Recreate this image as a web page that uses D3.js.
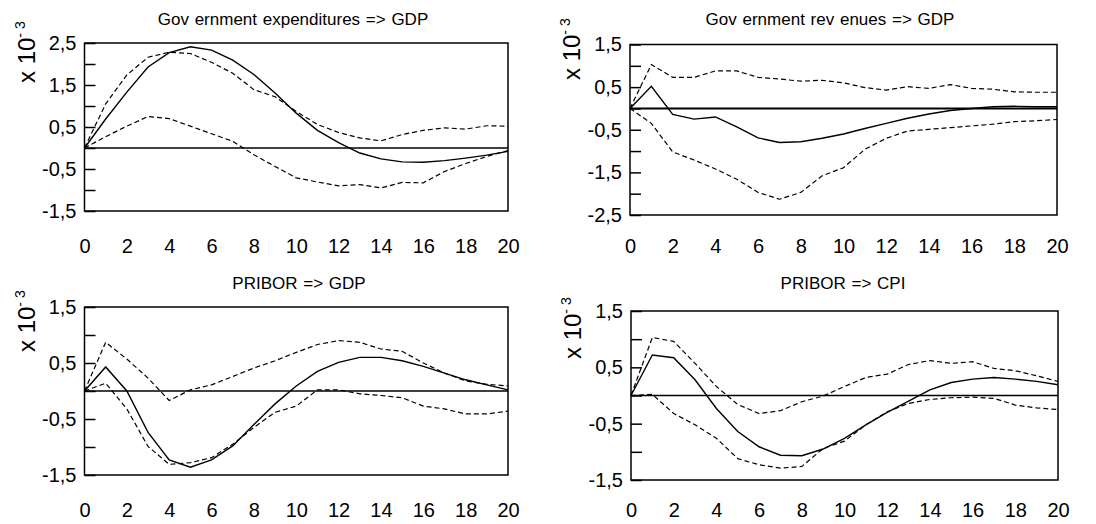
<!DOCTYPE html>
<html>
<head>
<meta charset="utf-8">
<script src="https://cdn.jsdelivr.net/npm/d3@7"></script>
<style>
  html, body { margin: 0; padding: 0; background: #fff; }
  svg { display: block; }
  text { font-family: "Liberation Sans", Arial, sans-serif; fill: #000; }
</style>
</head>
<body>
<svg id="chart" width="1096" height="524"></svg>
<script>
// ---------- DATA ----------
const horizons = d3.range(0, 21); // 0..20
const xTickValues = [0, 2, 4, 6, 8, 10, 12, 14, 16, 18, 20];

const titles = [
  "Gov ernment expenditures => GDP",
  "Gov ernment rev enues => GDP",
  "PRIBOR => GDP",
  "PRIBOR => CPI"
];

// Panel 1: Government expenditures => GDP
const govExpIrf   = [0, 0.69, 1.33, 1.93, 2.27, 2.41, 2.33, 2.09, 1.75, 1.31, 0.83, 0.42, 0.13, -0.12, -0.26, -0.33, -0.34, -0.30, -0.24, -0.17, -0.08];
const govExpUpper = [0, 1.05, 1.74, 2.16, 2.28, 2.25, 2.04, 1.78, 1.39, 1.22, 0.87, 0.56, 0.37, 0.24, 0.17, 0.32, 0.42, 0.48, 0.45, 0.53, 0.52];
const govExpLower = [0, 0.27, 0.52, 0.75, 0.70, 0.52, 0.34, 0.16, -0.16, -0.44, -0.71, -0.81, -0.90, -0.87, -0.95, -0.82, -0.83, -0.56, -0.37, -0.20, -0.06];

// Panel 2: Government revenues => GDP
const govRevIrf   = [0, 0.52, -0.14, -0.25, -0.20, -0.43, -0.69, -0.80, -0.78, -0.70, -0.60, -0.47, -0.35, -0.23, -0.13, -0.05, 0.00, 0.04, 0.05, 0.04, 0.04];
const govRevUpper = [0, 1.03, 0.73, 0.73, 0.88, 0.88, 0.73, 0.69, 0.64, 0.66, 0.60, 0.49, 0.43, 0.51, 0.47, 0.56, 0.47, 0.45, 0.39, 0.38, 0.38];
const govRevLower = [0, -0.35, -1.02, -1.21, -1.42, -1.66, -1.97, -2.13, -1.97, -1.58, -1.39, -0.96, -0.70, -0.53, -0.49, -0.45, -0.41, -0.37, -0.31, -0.29, -0.26];

// Panel 3: PRIBOR => GDP
const priGdpIrf   = [0, 0.43, 0.00, -0.74, -1.23, -1.36, -1.23, -0.98, -0.60, -0.23, 0.09, 0.35, 0.51, 0.60, 0.60, 0.54, 0.44, 0.32, 0.20, 0.11, 0.02];
const priGdpUpper = [0, 0.87, 0.57, 0.23, -0.17, 0.02, 0.11, 0.26, 0.41, 0.54, 0.69, 0.83, 0.90, 0.87, 0.75, 0.71, 0.50, 0.32, 0.18, 0.12, 0.09];
const priGdpLower = [0, 0.14, -0.32, -0.99, -1.31, -1.28, -1.19, -0.95, -0.65, -0.38, -0.27, 0.02, 0.02, -0.05, -0.08, -0.12, -0.27, -0.32, -0.41, -0.41, -0.36];

// Panel 4: PRIBOR => CPI
const priCpiIrf   = [0, 0.72, 0.67, 0.28, -0.23, -0.64, -0.91, -1.06, -1.07, -0.95, -0.76, -0.52, -0.30, -0.10, 0.10, 0.23, 0.29, 0.32, 0.29, 0.25, 0.19];
const priCpiUpper = [0, 1.03, 0.96, 0.57, 0.16, -0.16, -0.32, -0.27, -0.11, -0.01, 0.16, 0.32, 0.38, 0.55, 0.62, 0.57, 0.60, 0.48, 0.44, 0.35, 0.25];
const priCpiLower = [0, 0.02, -0.32, -0.52, -0.76, -1.12, -1.23, -1.29, -1.26, -0.94, -0.81, -0.52, -0.29, -0.14, -0.07, -0.04, -0.03, -0.05, -0.17, -0.22, -0.25];

// y domains and labelled ticks
const yDomains = [[-1.5, 2.5], [-2.5, 1.5], [-1.5, 1.5], [-1.5, 1.5]];
const yLabelValues = [
  [2.5, 1.5, 0.5, -0.5, -1.5],
  [1.5, 0.5, -0.5, -1.5, -2.5],
  [1.5, 0.5, -0.5, -1.5],
  [1.5, 0.5, -0.5, -1.5]
];
const yTickLabels = [
  ["2,5", "1,5", "0,5", "-0,5", "-1,5"],
  ["1,5", "0,5", "-0,5", "-1,5", "-2,5"],
  ["1,5", "0,5", "-0,5", "-1,5"],
  ["1,5", "0,5", "-0,5", "-1,5"]
];
const unitLabel = "x 10";
const unitExp = "- 3";

// ---------- LAYOUT ----------
const panels = [
  { left: 84.5, right: 508,  top: 43,  bottom: 211, xLabTop: 239, titleX: 293, titleY: 25,  unitY: 83 },
  { left: 630,  right: 1057, top: 44.5, bottom: 215, xLabTop: 239, titleX: 830, titleY: 25,  unitY: 80 },
  { left: 84.5, right: 508,  top: 307, bottom: 475, xLabTop: 503, titleX: 299, titleY: 289, unitY: 352 },
  { left: 631,  right: 1058, top: 311, bottom: 480, xLabTop: 503, titleX: 843, titleY: 289, unitY: 359 }
];
const seriesSets = [
  [govExpIrf, govExpUpper, govExpLower],
  [govRevIrf, govRevUpper, govRevLower],
  [priGdpIrf, priGdpUpper, priGdpLower],
  [priCpiIrf, priCpiUpper, priCpiLower]
];

const svg = d3.select("#chart");

panels.forEach((p, i) => {
  const x = d3.scaleLinear().domain([0, 20]).range([p.left, p.right]);
  const y = d3.scaleLinear().domain(yDomains[i]).range([p.bottom, p.top]);
  const g = svg.append("g");

  // title
  g.append("text")
    .attr("x", p.titleX)
    .attr("y", p.titleY)
    .attr("text-anchor", "middle")
    .style("font-size", "17px")
    .style("word-spacing", "1px")
    .text(titles[i]);

  // unit label (rotated)
  const ut = g.append("text")
    .attr("transform", `translate(${p.left - 50},${p.unitY}) rotate(-90)`)
    .attr("text-anchor", "start")
    .style("font-size", "24px");
  ut.append("tspan").text(unitLabel);
  ut.append("tspan").attr("dy", -10).style("font-size", "14px").text(unitExp);

  // y axis (inward ticks every 0.5)
  const [y0, y1] = yDomains[i];
  const tickVals = d3.range(y0, y1 + 0.001, 0.5);
  const yAxis = d3.axisLeft(y)
    .tickValues(tickVals)
    .tickSizeInner(-11)
    .tickSizeOuter(0)
    .tickPadding(8)
    .tickFormat(v => {
      const k = yLabelValues[i].findIndex(t => Math.abs(t - v) < 1e-6);
      return k >= 0 ? yTickLabels[i][k] : "";
    });
  const ya = g.append("g").attr("transform", `translate(${p.left},0)`).call(yAxis);
  ya.select(".domain").remove();
  ya.selectAll("line").attr("stroke", "#000").attr("stroke-width", 1.5);
  ya.selectAll("text").style("font-size", "20px").style("font-family", "Liberation Sans, Arial, sans-serif");

  // x axis labels
  const xAxis = d3.axisBottom(x).tickValues(xTickValues).tickSize(0).tickPadding(0).tickFormat(d3.format("d"));
  const xa = g.append("g").attr("transform", `translate(0,${p.xLabTop})`).call(xAxis);
  xa.select(".domain").remove();
  xa.selectAll("text").style("font-size", "20px").style("font-family", "Liberation Sans, Arial, sans-serif");

  // zero line
  g.append("line")
    .attr("x1", x(0)).attr("x2", x(20))
    .attr("y1", y(0)).attr("y2", y(0))
    .attr("stroke", "#000").attr("stroke-width", i === 1 ? 2 : 1.5);

  // series
  const line = d3.line().x((d, k) => x(horizons[k])).y(d => y(d));
  const [irf, up, lo] = seriesSets[i];
  [up, lo].forEach(s => {
    g.append("path").datum(s).attr("d", line)
      .attr("fill", "none").attr("stroke", "#000").attr("stroke-width", 1.2)
      .attr("stroke-dasharray", "5,3");
  });
  g.append("path").datum(irf).attr("d", line)
    .attr("fill", "none").attr("stroke", "#000").attr("stroke-width", 1.4);

  // frame
  g.append("rect")
    .attr("x", p.left).attr("y", p.top)
    .attr("width", p.right - p.left).attr("height", p.bottom - p.top)
    .attr("fill", "none").attr("stroke", "#000").attr("stroke-width", 1.5);
});
</script>
</body>
</html>
